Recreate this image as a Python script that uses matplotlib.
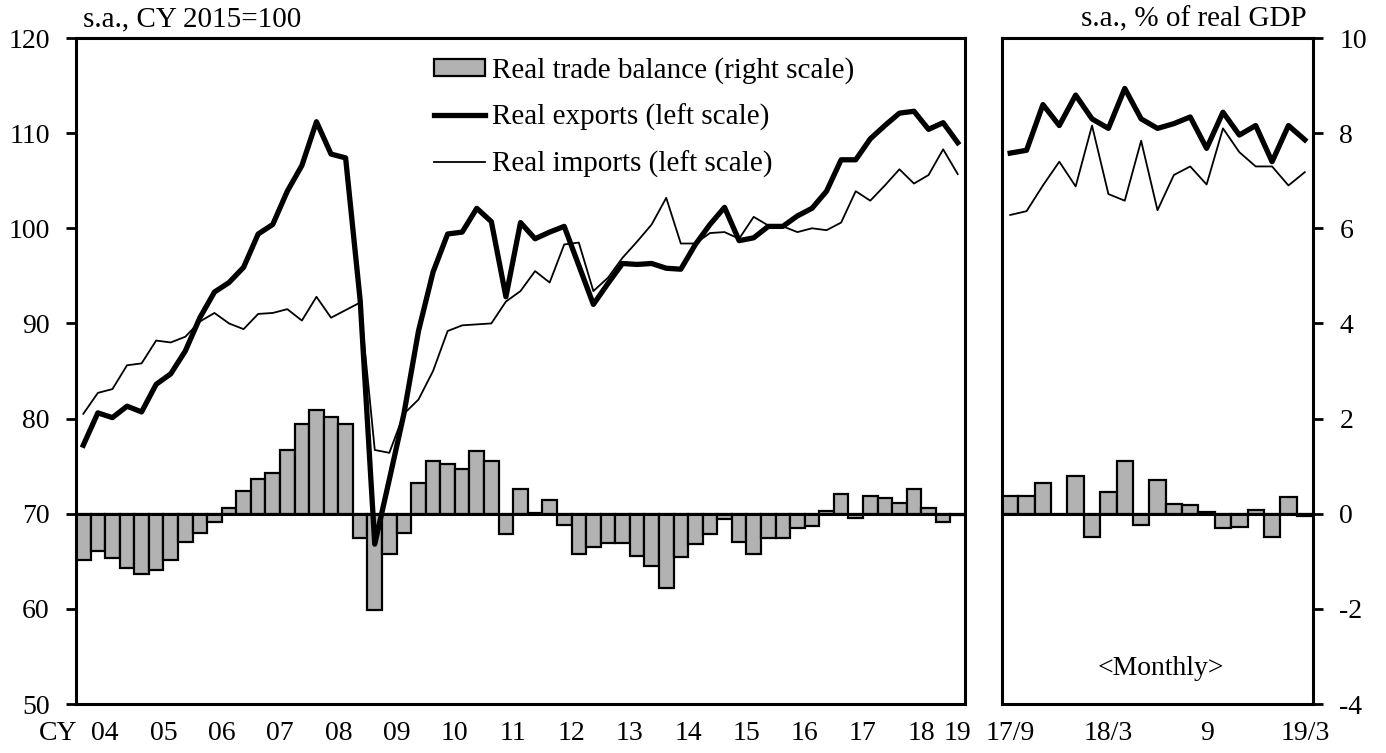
import matplotlib
matplotlib.use("Agg")
import matplotlib.pyplot as plt
from matplotlib.patches import Patch
from matplotlib.lines import Line2D

plt.rcParams['font.family'] = ['Liberation Serif', 'DejaVu Serif']
plt.rcParams['font.size'] = 20
plt.rcParams['axes.unicode_minus'] = False

# quarterly, CY2004Q1 - 2019Q1
exports_q = [77.2, 80.6, 80.1, 81.3, 80.7, 83.6, 84.7, 87.1, 90.6, 93.3,
             94.3, 95.9, 99.4, 100.4, 103.9, 106.6, 111.2, 107.8, 107.4, 92.4,
             66.8, 73.6, 80.5, 89.2, 95.4, 99.4, 99.6, 102.1, 100.7, 92.8,
             100.6, 98.9, 99.6, 100.2, 96.1, 92.0, 94.2, 96.3, 96.2, 96.3,
             95.8, 95.7, 98.3, 100.4, 102.2, 98.7, 99.0, 100.2, 100.2, 101.3,
             102.1, 103.9, 107.2, 107.2, 109.4, 110.8, 112.1, 112.3, 110.4, 111.1,
             109.0]
imports_q = [80.5, 82.7, 83.1, 85.6, 85.8, 88.2, 88.0, 88.6, 90.2, 91.1,
             90.0, 89.4, 91.0, 91.1, 91.5, 90.3, 92.8, 90.6, 91.4, 92.2,
             76.7, 76.4, 80.5, 82.0, 85.0, 89.2, 89.8, 89.9, 90.0, 92.3,
             93.4, 95.5, 94.3, 98.3, 98.5, 93.4, 94.8, 96.9, 98.6, 100.4,
             103.2, 98.4, 98.4, 99.5, 99.6, 98.9, 101.2, 100.3, 100.2, 99.6,
             100.0, 99.8, 100.6, 103.9, 102.9, 104.5, 106.2, 104.7, 105.6, 108.3,
             105.7]
balance_q = [-0.98, -0.78, -0.94, -1.14, -1.26, -1.19, -0.98, -0.59, -0.40, -0.18,
             0.12, 0.48, 0.73, 0.85, 1.34, 1.89, 2.17, 2.03, 1.89, -0.50,
             -2.02, -0.84, -0.40, 0.64, 1.10, 1.04, 0.95, 1.31, 1.11, -0.43,
             0.53, 0.02, 0.28, -0.23, -0.84, -0.71, -0.61, -0.61, -0.89, -1.10,
             -1.56, -0.92, -0.64, -0.43, -0.11, -0.59, -0.84, -0.52, -0.52, -0.29,
             -0.25, 0.05, 0.41, -0.09, 0.37, 0.32, 0.23, 0.51, 0.13, -0.17,
             -0.03]
year_labels = ['04', '05', '06', '07', '08', '09', '10', '11', '12', '13',
               '14', '15', '16', '17', '18', '19']

# monthly, 2017/9 - 2019/3
exports_m = [107.9, 108.2, 113.0, 110.8, 114.0, 111.5, 110.5, 114.7, 111.5, 110.5,
             111.0, 111.7, 108.4, 112.2, 109.8, 110.8, 107.0, 110.8, 109.3]
imports_m = [101.4, 101.8, 104.5, 107.0, 104.4, 110.8, 103.6, 102.9, 109.2, 101.9,
             105.6, 106.5, 104.6, 110.5, 108.0, 106.5, 106.5, 104.5, 105.9]
balance_m = [0.38, 0.38, 0.64, -0.01, 0.80, -0.48, 0.46, 1.11, -0.23, 0.70,
             0.21, 0.18, 0.04, -0.31, -0.27, 0.08, -0.48, 0.35, -0.04]
month_labels = ['17/9', '18/3', '9', '19/3']
month_label_pos = [0, 6, 12, 18]

bar_color = '#b2b2b2'
W, H = 1386, 753
fig = plt.figure(figsize=(W / 100, H / 100), dpi=100)

ax1 = fig.add_axes([76 / W, 49 / H, 889 / W, 666 / H])
ax3 = fig.add_axes([1002 / W, 49 / H, 311 / W, 666 / H])


def panel(ax, balance, exports, imports):
    n = len(balance)
    xs = list(range(n))
    ax.bar(xs, balance, width=1.0, color=bar_color, edgecolor='black', linewidth=1.6)
    ax.axhline(0, color='black', lw=2.2)
    ax.set_ylim(-4, 10)
    ax.set_xlim(-0.5, n - 0.5)
    tw = ax.twinx()
    tw.plot(xs, exports, color='black', lw=3.8)
    tw.plot(xs, imports, color='black', lw=1.3)
    tw.set_ylim(50, 120)
    for s in tw.spines.values():
        s.set_visible(False)
    for s in ax.spines.values():
        s.set_linewidth(2.2)
    return tw


ax2 = panel(ax1, balance_q, exports_q, imports_q)
ax4 = panel(ax3, balance_m, exports_m, imports_m)

# left panel: left scale
ax1.set_yticks([])
ax2.yaxis.set_ticks_position('left')
ax2.set_yticks(range(50, 121, 10))
ax2.tick_params(axis='y', direction='out', length=7, width=2, pad=12, labelsize=20)

# right panel: right scale
ax4.set_yticks([])
ax3.yaxis.set_ticks_position('right')
ax3.set_yticks(range(-4, 11, 2))
ax3.tick_params(axis='y', direction='out', length=7, width=2, pad=12, labelsize=20,
                left=False, labelleft=False, right=True, labelright=True)

# x axes
n_q = len(balance_q)
ax1.set_xticks([4 * k - 0.5 for k in range(1, 16)])
ax1.set_xticks([4 * k + 1.5 for k in range(15)] + [n_q - 1], year_labels, minor=True)
ax1.tick_params(axis='x', which='major', direction='in', length=8, width=2, labelbottom=False)
ax1.tick_params(axis='x', which='minor', length=0, pad=12, labelsize=20)
ax1.annotate('CY', xy=(-0.5, 0), xycoords=('data', 'axes fraction'),
             xytext=(1, -12), textcoords='offset points', ha='right', va='top', fontsize=20)

n_m = len(balance_m)
ax3.set_xticks([j + 0.5 for j in range(n_m - 1)])
ax3.set_xticks(month_label_pos, month_labels, minor=True)
ax3.tick_params(axis='x', which='major', direction='in', length=6, width=1.5, labelbottom=False)
ax3.tick_params(axis='x', which='minor', length=0, pad=12, labelsize=20)
for a in (ax2, ax4):
    a.set_xticks([])

ax3.text(0.51, 0.054, '<Monthly>', transform=ax3.transAxes, ha='center', va='center', fontsize=20)

fig.text(83 / W, 1 - 26 / H, 's.a., CY 2015=100', ha='left', va='baseline', fontsize=21)
fig.text(1307 / W, 1 - 26 / H, 's.a., % of real GDP', ha='right', va='baseline', fontsize=21)

handles = [Patch(facecolor=bar_color, edgecolor='black', linewidth=1.6),
           Line2D([], [], color='black', lw=3.8),
           Line2D([], [], color='black', lw=1.3)]
labels = ['Real trade balance (right scale)', 'Real exports (left scale)', 'Real imports (left scale)']
ax2.legend(handles, labels, loc='upper left', bbox_to_anchor=(0.381, 1.0), frameon=False,
           handlelength=1.75, handletextpad=0.25, labelspacing=0.68, handleheight=0.5,
           fontsize=21, borderaxespad=0.25)

fig.savefig('out.png', dpi=100)
